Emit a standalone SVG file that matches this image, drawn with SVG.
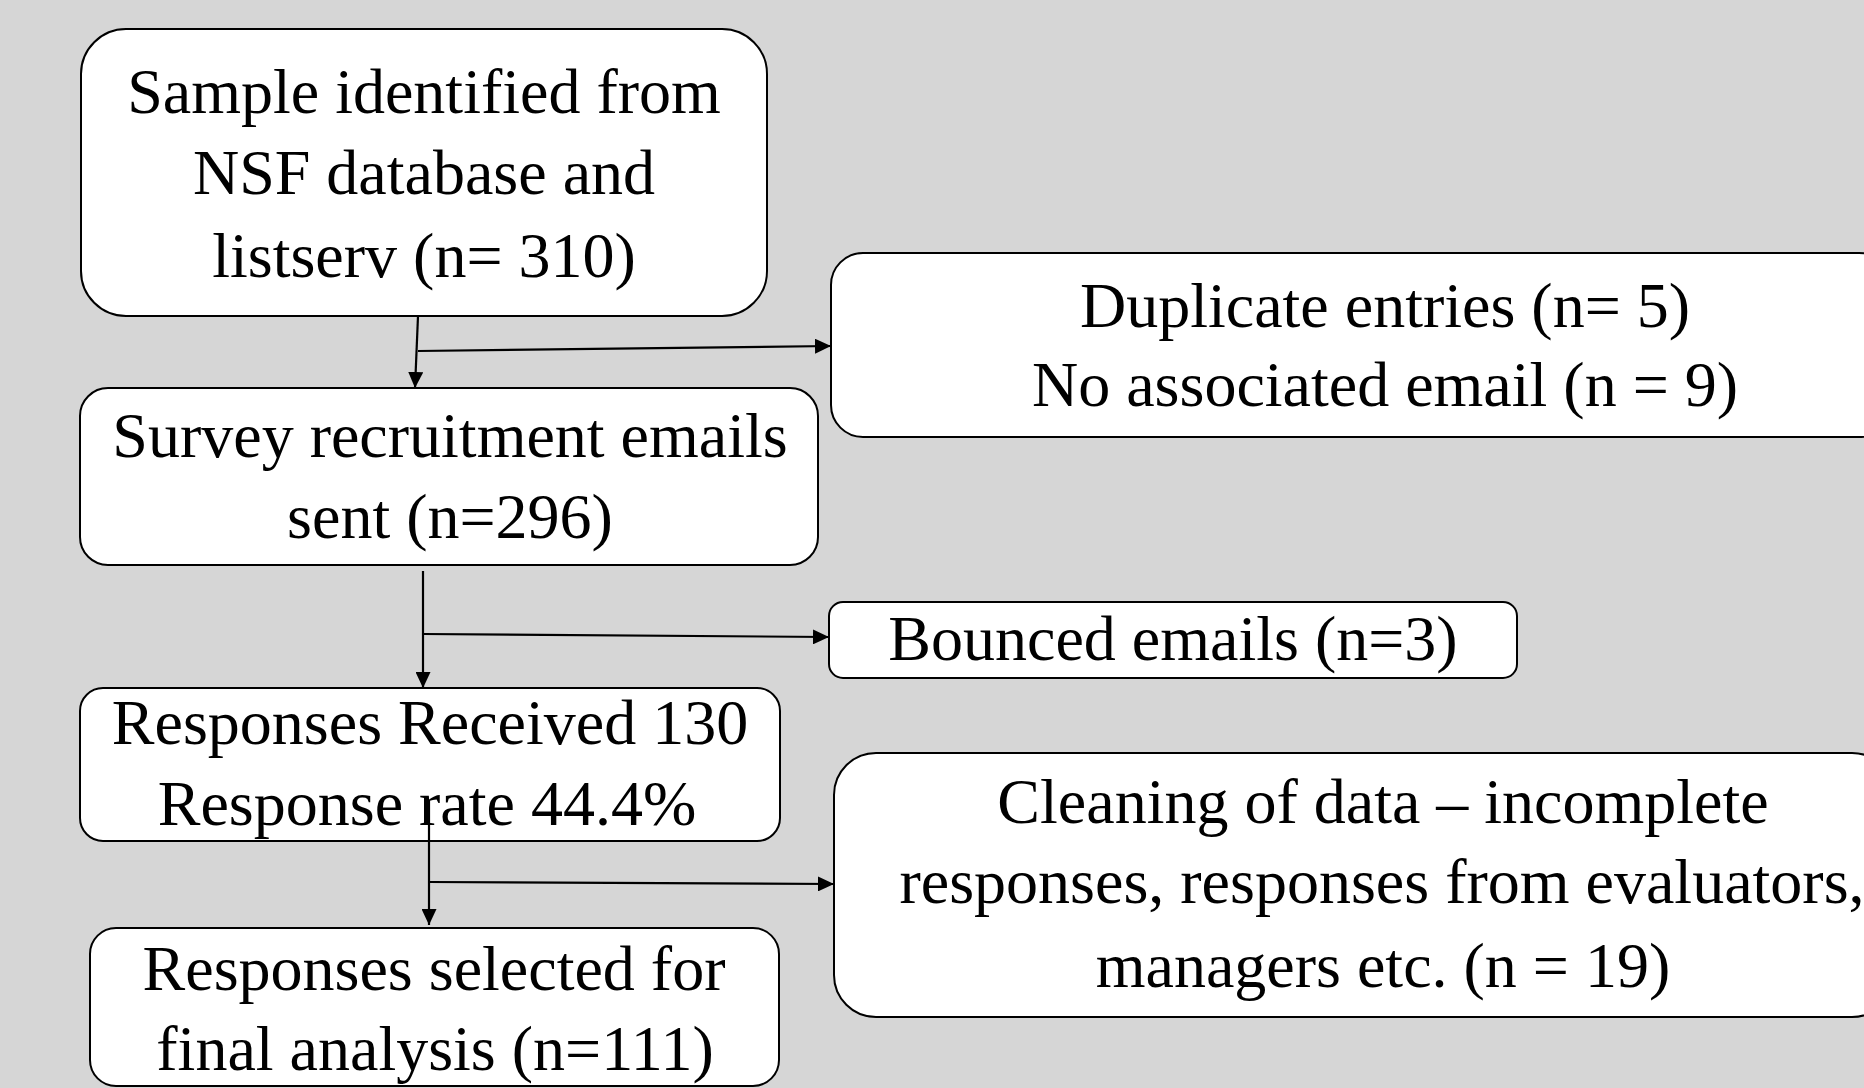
<svg xmlns="http://www.w3.org/2000/svg" width="1864" height="1088" viewBox="0 0 1864 1088">
<style>
.bg{fill:#d6d6d6}
.box{fill:#ffffff;stroke:#000000;stroke-width:2}
.t{font-family:"Liberation Serif","Times New Roman",serif;font-size:64px;fill:#000000;text-anchor:middle}
.c{stroke:#000000;stroke-width:2.2;fill:none;marker-end:url(#ah)}
</style>
<defs>
<marker id="ah" markerUnits="userSpaceOnUse" markerWidth="16" markerHeight="15" refX="16" refY="7.5" orient="auto">
<path d="M0,0 L16,7.5 L0,15 z" fill="#000000"/>
</marker>
</defs>
<rect class="bg" x="0" y="0" width="1864" height="1088"/>
<g id="node-sample">
<rect class="box" x="81" y="29" width="686" height="287" rx="45" ry="45"/>
<text class="t" x="424" y="113">Sample identified from</text>
<text class="t" x="424" y="194">NSF database and</text>
<text class="t" x="424" y="277">listserv (n= 310)</text>
</g>
<g id="node-survey">
<rect class="box" x="80" y="388" width="738" height="177" rx="28" ry="28"/>
<text class="t" x="450" y="457">Survey recruitment emails</text>
<text class="t" x="450" y="538">sent (n=296)</text>
</g>
<g id="node-duplicate">
<rect class="box" x="831" y="253" width="1060" height="184" rx="32" ry="32"/>
<text class="t" x="1385" y="327">Duplicate entries (n= 5)</text>
<text class="t" x="1385" y="406">No associated email (n = 9)</text>
</g>
<g id="node-bounced">
<rect class="box" x="829" y="602" width="688" height="76" rx="14" ry="14"/>
<text class="t" x="1173" y="660">Bounced emails (n=3)</text>
</g>
<g id="node-received">
<rect class="box" x="80" y="688" width="700" height="153" rx="23" ry="23"/>
<text class="t" x="430" y="744">Responses Received 130</text>
<text class="t" x="427" y="825">Response rate 44.4%</text>
</g>
<g id="node-selected">
<rect class="box" x="90" y="928" width="689" height="158" rx="26" ry="26"/>
<text class="t" x="434" y="990">Responses selected for</text>
<text class="t" x="435" y="1070">final analysis (n=111)</text>
</g>
<g id="node-cleaning">
<rect class="box" x="834" y="753" width="1060" height="264" rx="42" ry="42"/>
<text class="t" x="1383" y="823">Cleaning of data – incomplete</text>
<text class="t" x="1382" y="903">responses, responses from evaluators,</text>
<text class="t" x="1383" y="987">managers etc. (n = 19)</text>
</g>
<g id="connectors">
<line class="c" x1="418" y1="316" x2="415" y2="388"/>
<line class="c" x1="418" y1="351" x2="831" y2="346"/>
<line class="c" x1="423" y1="571" x2="423" y2="688"/>
<line class="c" x1="423" y1="634" x2="829" y2="637"/>
<line class="c" x1="429" y1="800" x2="429" y2="925"/>
<line class="c" x1="429" y1="882" x2="834" y2="884"/>
</g>
</svg>
